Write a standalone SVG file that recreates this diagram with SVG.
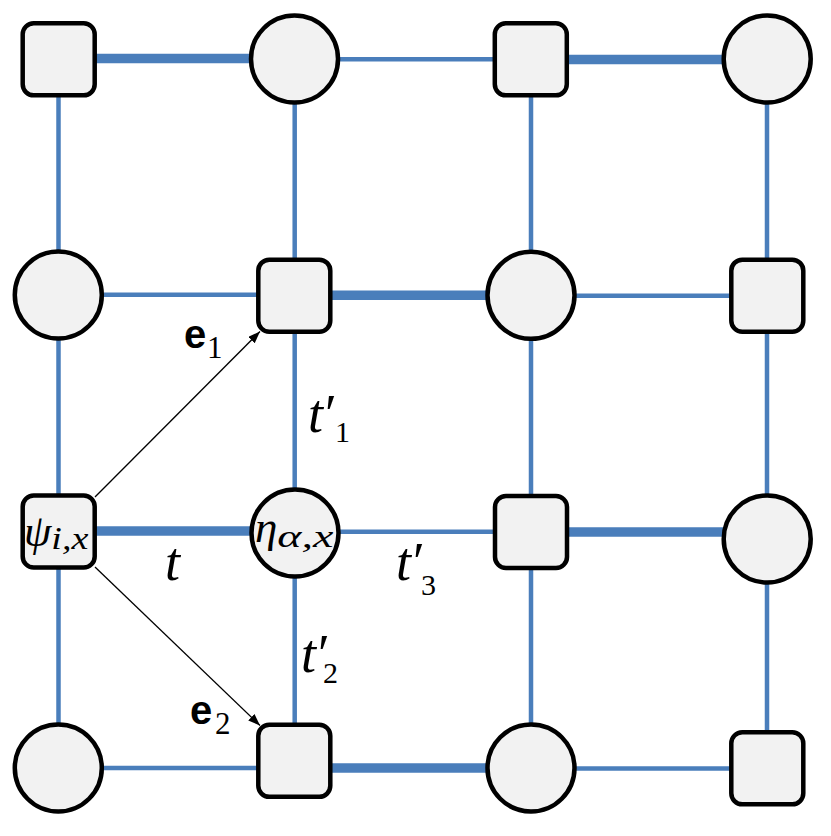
<svg xmlns="http://www.w3.org/2000/svg" width="831" height="836" viewBox="0 0 831 836">
<style>
.thin{stroke:#4A7EBB;stroke-width:4.5;fill:none}
.thick{stroke:#4A7EBB;stroke-width:9.5;fill:none}
.node{fill:#F2F2F2;stroke:#000;stroke-width:4.5}
.arr{stroke:#000;stroke-width:1.3;fill:none;marker-end:url(#ah)}
.m{font-family:"Liberation Serif","DejaVu Serif",serif;font-style:italic;fill:#000}
.d{font-family:"Liberation Serif","DejaVu Serif",serif;font-style:normal;fill:#000}
.b{font-family:"Liberation Sans",Arial,sans-serif;font-weight:bold;fill:#000}
</style>
<defs>
<marker id="ah" markerUnits="userSpaceOnUse" markerWidth="13" markerHeight="10" refX="12" refY="4.5" orient="auto">
<path d="M0,0 L12,4.5 L0,9 z" fill="#000"/>
</marker>
</defs>
<rect width="831" height="836" fill="#fff"/>
<g id="connectors">
<line class="thin" x1="58.5" y1="59" x2="58.5" y2="768"/>
<line class="thin" x1="294.7" y1="59" x2="294.7" y2="768"/>
<line class="thin" x1="531" y1="59" x2="531" y2="768"/>
<line class="thin" x1="767" y1="59" x2="767" y2="768"/>
<line class="thick" x1="58" y1="58.5" x2="295" y2="58.5"/>
<line class="thin" x1="295" y1="59.2" x2="531" y2="59.2"/>
<line class="thick" x1="531" y1="59.5" x2="767" y2="59.5"/>
<line class="thin" x1="58" y1="294.8" x2="295" y2="294.8"/>
<line class="thick" x1="295" y1="295.3" x2="531" y2="295.3"/>
<line class="thin" x1="531" y1="295.8" x2="767" y2="295.8"/>
<line class="thick" x1="58" y1="531" x2="295" y2="531"/>
<line class="thin" x1="295" y1="531.7" x2="531" y2="531.7"/>
<line class="thick" x1="531" y1="532" x2="767" y2="532"/>
<line class="thin" x1="58" y1="768" x2="295" y2="768"/>
<line class="thick" x1="295" y1="768" x2="531" y2="768"/>
<line class="thin" x1="531" y1="768.5" x2="767" y2="768.5"/>
<line class="arr" x1="95" y1="497" x2="260" y2="331.5"/>
<line class="arr" x1="95" y1="567" x2="260" y2="725.5"/>
</g>
<g id="n00"><rect class="node" x="22.7" y="23.3" width="72" height="72" rx="11"/></g>
<g id="n01"><circle class="node" cx="294.5" cy="59" r="43.5"/></g>
<g id="n02"><rect class="node" x="494.8" y="23.3" width="72" height="72" rx="11"/></g>
<g id="n03"><circle class="node" cx="767.2" cy="59" r="43.5"/></g>
<g id="n10"><circle class="node" cx="58.3" cy="295" r="43.5"/></g>
<g id="n11"><rect class="node" x="258.3" y="259.7" width="72" height="72" rx="11"/></g>
<g id="n12"><circle class="node" cx="531" cy="295.3" r="43.5"/></g>
<g id="n13"><rect class="node" x="731.3" y="259.7" width="72" height="72" rx="11"/></g>
<g id="n20"><rect class="node" x="22.7" y="495.5" width="72" height="72" rx="11"/>
<text class="m" x="24" y="546" font-size="44">ψ<tspan font-size="32" dy="3" textLength="37" lengthAdjust="spacingAndGlyphs">i,x</tspan></text></g>
<g id="n21"><circle class="node" cx="295" cy="533" r="43.5"/>
<text class="m" x="255" y="542" font-size="45">η<tspan font-size="32" dy="5" textLength="56" lengthAdjust="spacingAndGlyphs">α,x</tspan></text></g>
<g id="n22"><rect class="node" x="495" y="496" width="72" height="72" rx="11"/></g>
<g id="n23"><circle class="node" cx="767.2" cy="539" r="43.5"/></g>
<g id="n30"><circle class="node" cx="58.3" cy="768" r="43.5"/></g>
<g id="n31"><rect class="node" x="258.3" y="724.8" width="72" height="72" rx="11"/></g>
<g id="n32"><circle class="node" cx="531" cy="768" r="43.5"/></g>
<g id="n33"><rect class="node" x="731.3" y="732.3" width="72" height="72" rx="11"/></g>
<g id="labels">
<text class="m" x="165" y="580" font-size="54">t</text>
<text class="m" x="308" y="432" font-size="54">t<tspan class="d" dx="2">′</tspan><tspan class="d" x="335" dy="10" font-size="30">1</tspan></text>
<text class="m" x="301" y="672" font-size="54">t<tspan class="d" dx="2">′</tspan><tspan class="d" x="323" dy="11" font-size="30">2</tspan></text>
<text class="m" x="396" y="580" font-size="54">t<tspan class="d" dx="2">′</tspan><tspan class="d" x="421" dy="15" font-size="30">3</tspan></text>
<text class="b" x="184" y="348" font-size="40">e<tspan class="d" font-weight="normal" x="207" dy="10" font-size="31">1</tspan></text>
<text class="b" x="190" y="724" font-size="40">e<tspan class="d" font-weight="normal" x="215" dy="10" font-size="31">2</tspan></text>
</g>
</svg>
